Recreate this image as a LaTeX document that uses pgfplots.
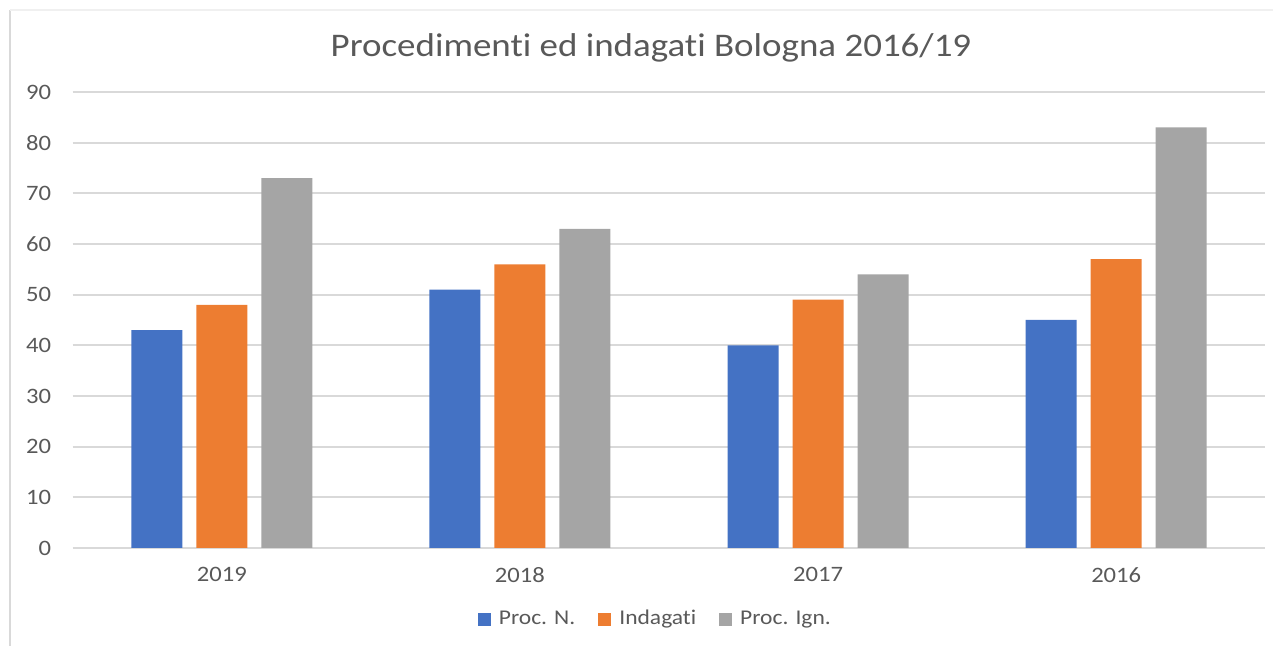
\documentclass[border=0pt]{standalone}
\usepackage{pgfplots}
\pgfplotsset{compat=1.18}
\usepackage{fontspec}
\setmainfont[FakeStretch=1.12,Ligatures=NoCommon]{Carlito}
\definecolor{cblue}{HTML}{4472C4}
\definecolor{corange}{HTML}{ED7D31}
\definecolor{cgray}{HTML}{A5A5A5}
\definecolor{textc}{HTML}{595959}
\definecolor{gridc}{HTML}{D9D9D9}
\definecolor{framec}{HTML}{D9D9D9}
\begin{document}
\begin{tikzpicture}
\path[use as bounding box] (0,0) rectangle (636.5pt,323pt);
\draw[color=framec, line width=0.6pt] (5pt,0) -- (5pt,318pt);
\draw[color=gridc!40, line width=0.6pt] (5pt,318pt) -- (636.5pt,318pt);
\begin{axis}[
  at={(36.35pt,49pt)}, anchor=south west,
  scale only axis, width=596.3pt, height=228pt,
  ybar=7pt, bar width=25.5pt,
  xmin=-0.5, xmax=3.5, ymin=0, ymax=90,
  xtick={0,1,2,3}, xticklabels={2019,2018,2017,2016},
  ytick={0,10,...,90},
  ymajorgrids, major grid style={draw=gridc, line width=0.9pt},
  axis line style={draw=none},
  major tick length=0pt,
  tick label style={font=\fontsize{11}{13}\selectfont, text=textc},
  /pgf/number format/assume math mode=true,
  yticklabel style={inner sep=0pt, anchor=east, xshift=-10.6pt},
  xticklabel style={inner sep=0pt, anchor=north, yshift=-9.5pt},
  legend columns=3,
  legend style={draw=none, fill=none, at={(0.489,-0.156)}, anchor=center,
    font=\fontsize{10.5}{12}\selectfont, text=textc,
    nodes={inner sep=1.5pt},
    /tikz/every odd column/.append style={column sep=2.5pt},
    /tikz/every even column/.append style={column sep=10pt}},
  legsq/.style={legend image code/.code={\fill[##1] (0pt,-3.25pt) rectangle (6.5pt,3.25pt);}},
]
\addplot[fill=cblue, draw=none, legsq] coordinates {(0,43) (1,51) (2,40) (3,45)};
\addplot[fill=corange, draw=none, legsq] coordinates {(0,48) (1,56) (2,49) (3,57)};
\addplot[fill=cgray, draw=none, legsq] coordinates {(0,73) (1,63) (2,54) (3,83)};
\legend{Proc. N.,Indagati,Proc. Ign.}
\end{axis}
\node[anchor=base, inner sep=0pt, font=\fontsize{16.5}{19}\selectfont, text=textc] at (325.5pt,294.5pt) {Procedimenti ed indagati Bologna 2016/19};
\end{tikzpicture}
\end{document}
